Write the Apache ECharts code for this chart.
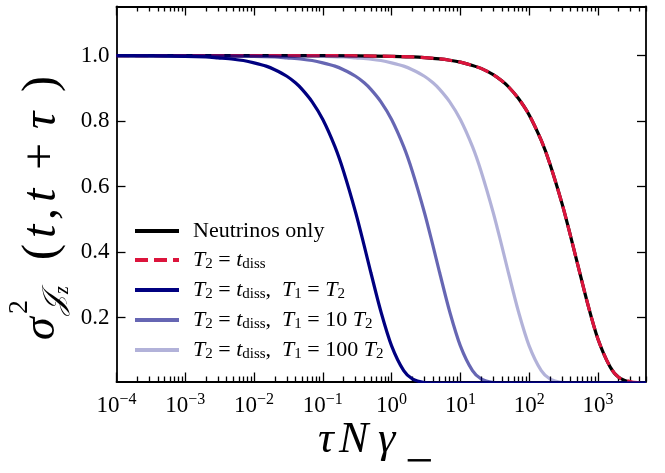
<!DOCTYPE html>
<html>
<head>
<meta charset="utf-8">
<script src="https://cdn.jsdelivr.net/npm/echarts@6.0.0/dist/echarts.min.js"></script>
<style>html,body{margin:0;padding:0;background:#fff}#c{width:665px;height:473px}</style>
</head>
<body>
<div id="c"></div>
<script>
// ---- data ----
const seriesNames = [
  'Neutrinos only',
  'T2 = tdiss',
  'T2 = tdiss, T1 = T2',
  'T2 = tdiss, T1 = 10 T2',
  'T2 = tdiss, T1 = 100 T2'
];

const tauNeutrinos = [1e-4, 0.1, 1, 2, 3, 5, 7, 10, 15, 20, 30, 40, 50, 70, 100, 150, 200, 300, 400, 500, 700, 1000, 1500, 2000, 3000, 4000, 5000];
const sigmaNeutrinos = [1.000, 1.000, 0.998, 0.996, 0.994, 0.990, 0.986, 0.980, 0.970, 0.961, 0.942, 0.923, 0.905, 0.869, 0.819, 0.741, 0.670, 0.549, 0.449, 0.368, 0.247, 0.135, 0.050, 0.018, 0.0025, 0.0003, 0.0];

const tauDiss = [1e-4, 0.1, 1, 2, 3, 5, 7, 10, 15, 20, 30, 40, 50, 70, 100, 150, 200, 300, 400, 500, 700, 1000, 1500, 2000, 3000, 4000, 5000];
const sigmaDiss = [1.000, 1.000, 0.998, 0.996, 0.994, 0.990, 0.986, 0.980, 0.970, 0.961, 0.942, 0.923, 0.905, 0.869, 0.819, 0.741, 0.670, 0.549, 0.449, 0.368, 0.247, 0.135, 0.050, 0.018, 0.004, 0.001, 0.0005];

const tauT1eqT2 = [1e-4, 1e-3, 2e-3, 3e-3, 5e-3, 7e-3, 0.01, 0.015, 0.02, 0.03, 0.04, 0.05, 0.07, 0.1, 0.15, 0.2, 0.3, 0.4, 0.5, 0.7, 1, 1.5, 2, 3, 4, 5, 5000];
const sigmaT1eqT2 = [1.000, 0.998, 0.996, 0.993, 0.989, 0.985, 0.978, 0.968, 0.957, 0.937, 0.917, 0.897, 0.859, 0.805, 0.722, 0.647, 0.521, 0.419, 0.337, 0.218, 0.114, 0.038, 0.013, 0.0015, 0.0002, 0, 0];

const tauT1eq10T2 = [1e-4, 0.01, 0.02, 0.03, 0.05, 0.07, 0.1, 0.15, 0.2, 0.3, 0.4, 0.5, 0.7, 1, 1.5, 2, 3, 4, 5, 7, 10, 15, 20, 30, 40, 50, 5000];
const sigmaT1eq10T2 = [1.000, 0.998, 0.996, 0.993, 0.989, 0.985, 0.978, 0.968, 0.957, 0.937, 0.917, 0.897, 0.859, 0.805, 0.722, 0.647, 0.521, 0.419, 0.337, 0.218, 0.114, 0.038, 0.013, 0.0015, 0.0002, 0, 0];

const tauT1eq100T2 = [1e-4, 0.1, 0.2, 0.3, 0.5, 0.7, 1, 1.5, 2, 3, 4, 5, 7, 10, 15, 20, 30, 40, 50, 70, 100, 150, 200, 300, 400, 500, 5000];
const sigmaT1eq100T2 = [1.000, 0.998, 0.996, 0.993, 0.989, 0.985, 0.978, 0.968, 0.957, 0.937, 0.917, 0.897, 0.859, 0.805, 0.722, 0.647, 0.521, 0.419, 0.337, 0.218, 0.114, 0.038, 0.013, 0.0015, 0.0002, 0, 0];

const xMajorTicks = [1e-4, 1e-3, 1e-2, 1e-1, 1, 10, 100, 1000];
const yTicks = [0.2, 0.4, 0.6, 0.8, 1.0];

// ---- styling / layout ----
const SERIF = '"Liberation Serif", "DejaVu Serif", serif';
const xMinorTicks = [];
xMajorTicks.forEach(function (m) {
  [2, 3, 4, 5, 6, 7, 8, 9].forEach(function (k) {
    const v = +(m * k).toPrecision(3);
    if (v <= 5000) xMinorTicks.push(v);
  });
});
function pairs(xs, ys) { return xs.map(function (x, i) { return [x, ys[i]]; }); }

const legendRich = {
  'Neutrinos only': '{g| }{r|Neutrinos only}',
  'T2 = tdiss': '{g| }{i|T}{s|2}{r| = }{i|t}{s|diss}',
  'T2 = tdiss, T1 = T2': '{g| }{i|T}{s|2}{r| = }{i|t}{s|diss}{r|,  }{i|T}{s|1}{r| = }{i|T}{s|2}',
  'T2 = tdiss, T1 = 10 T2': '{g| }{i|T}{s|2}{r| = }{i|t}{s|diss}{r|,  }{i|T}{s|1}{r| = 10 }{i|T}{s|2}',
  'T2 = tdiss, T1 = 100 T2': '{g| }{i|T}{s|2}{r| = }{i|t}{s|diss}{r|,  }{i|T}{s|1}{r| = 100 }{i|T}{s|2}'
};

const NAVY = '#000080';
const axisLineStyle = { color: '#000', width: 1.8 };
const tickLineStyle = { color: '#000', width: 1.3 };
const XMIN = 1e-4, XMAX = 5000, YMIN = 0.005, YMAX = 1.15;

function xAxisDef(pos, major, showLabel) {
  return {
    type: 'log', logBase: 10, min: XMIN, max: XMAX, position: pos, gridIndex: 0,
    axisLine: { show: major, onZero: false, lineStyle: axisLineStyle },
    axisTick: { show: true, inside: true, length: major ? 9 : 5, lineStyle: tickLineStyle,
      customValues: major ? xMajorTicks : xMinorTicks },
    axisLabel: showLabel ? {
      show: true, customValues: xMajorTicks, margin: 10,
      formatter: function (v) {
        const e = Math.round(Math.log10(v));
        return '{b|10}{s|' + (e < 0 ? '\u2212' + (-e) : e) + '}';
      },
      rich: {
        b: { fontFamily: SERIF, fontSize: 23, lineHeight: 28, color: '#000' },
        s: { fontFamily: SERIF, fontSize: 16, lineHeight: 12, verticalAlign: 'top', color: '#000' }
      }
    } : { show: false },
    splitLine: { show: false }, minorTick: { show: false }, minorSplitLine: { show: false }
  };
}

const chart = echarts.init(document.getElementById('c'), null, { renderer: 'canvas' });

function glyph(txt, x, y, font) {
  return { type: 'text', x: x, y: y, silent: true,
    style: { text: txt, font: font, fill: '#000', textAlign: 'left', textVerticalAlign: 'middle', verticalAlign: 'middle' } };
}

function lineSeries(name, xs, ys, color, extra) {
  return {
    name: name, type: 'line', data: pairs(xs, ys),
    showSymbol: false, symbol: 'none', smooth: 0.3, clip: true, color: color,
    lineStyle: Object.assign({ color: color, width: 3.2 }, extra || {})
  };
}

chart.setOption({
  animation: false,
  backgroundColor: '#fff',
  grid: { left: 116.5, right: 19, top: 6.5, bottom: 91.5, containLabel: false },
  xAxis: [
    xAxisDef('bottom', true, true),
    xAxisDef('bottom', false, false),
    xAxisDef('top', true, false),
    xAxisDef('top', false, false)
  ],
  yAxis: [
    { type: 'value', min: YMIN, max: YMAX, position: 'left',
      axisLine: { show: true, onZero: false, lineStyle: axisLineStyle },
      axisTick: { show: true, inside: true, length: 9, lineStyle: tickLineStyle, customValues: yTicks },
      axisLabel: { show: true, customValues: yTicks, margin: 7, fontFamily: SERIF, fontSize: 23, color: '#000',
        formatter: function (v) { return v.toFixed(1); } },
      splitLine: { show: false } },
    { type: 'value', min: YMIN, max: YMAX, position: 'right',
      axisLine: { show: true, onZero: false, lineStyle: axisLineStyle },
      axisTick: { show: true, inside: true, length: 9, lineStyle: tickLineStyle, customValues: yTicks },
      axisLabel: { show: false },
      splitLine: { show: false } }
  ],
  legend: {
    data: seriesNames, orient: 'vertical', left: 133, top: 220, padding: 0,
    itemWidth: 44, itemHeight: 14, itemGap: 7,
    lineStyle: { width: 4 },
    itemStyle: { opacity: 0 },
    formatter: function (name) { return legendRich[name]; },
    textStyle: {
      color: '#000',
      rich: {
        g: { width: 9, fontSize: 22, lineHeight: 24 },
        r: { fontFamily: SERIF, fontSize: 22, lineHeight: 24, color: '#000' },
        i: { fontFamily: SERIF, fontStyle: 'italic', fontSize: 22, lineHeight: 24, color: '#000' },
        s: { fontFamily: SERIF, fontSize: 15, lineHeight: 14, verticalAlign: 'bottom', color: '#000' }
      }
    }
  },
  series: [
    lineSeries(seriesNames[0], tauNeutrinos, sigmaNeutrinos, '#000'),
    lineSeries(seriesNames[1], tauDiss, sigmaDiss, '#DC143C', { type: [13, 6] }),
    lineSeries(seriesNames[2], tauT1eqT2, sigmaT1eqT2, NAVY),
    lineSeries(seriesNames[3], tauT1eq10T2, sigmaT1eq10T2, NAVY, { opacity: 0.6 }),
    lineSeries(seriesNames[4], tauT1eq100T2, sigmaT1eq100T2, NAVY, { opacity: 0.3 })
  ],
  graphic: [
    { type: 'group', x: 42, y: 340, rotation: Math.PI / 2, silent: true, children: [
      glyph('\u03C3', 0, 0, 'italic 46px ' + SERIF),
      glyph('2', 26, -22, '28px ' + SERIF),
      glyph('\uD835\uDCA5', 25, 13, 'italic 30px ' + SERIF),
      glyph('z', 46, 21, 'italic 20px ' + SERIF),
      glyph('(', 80, 0, '48px ' + SERIF),
      glyph('t', 102, 0, 'italic 48px ' + SERIF),
      glyph(',', 120, 0, '48px ' + SERIF),
      glyph('t', 138, 0, 'italic 48px ' + SERIF),
      glyph('+', 170, 0, '48px ' + SERIF),
      glyph('\u03C4', 211, 0, 'italic 48px ' + SERIF),
      glyph(')', 248, 0, '48px ' + SERIF)
    ] },
    glyph('\u03C4', 318, 440, 'italic 44px ' + SERIF),
    glyph('N', 339, 440, 'italic 44px ' + SERIF),
    glyph('\u03B3', 378, 440, 'italic 44px ' + SERIF),
    glyph('\u2212', 405, 464, '50px ' + SERIF)
  ]
});
</script>
</body>
</html>
